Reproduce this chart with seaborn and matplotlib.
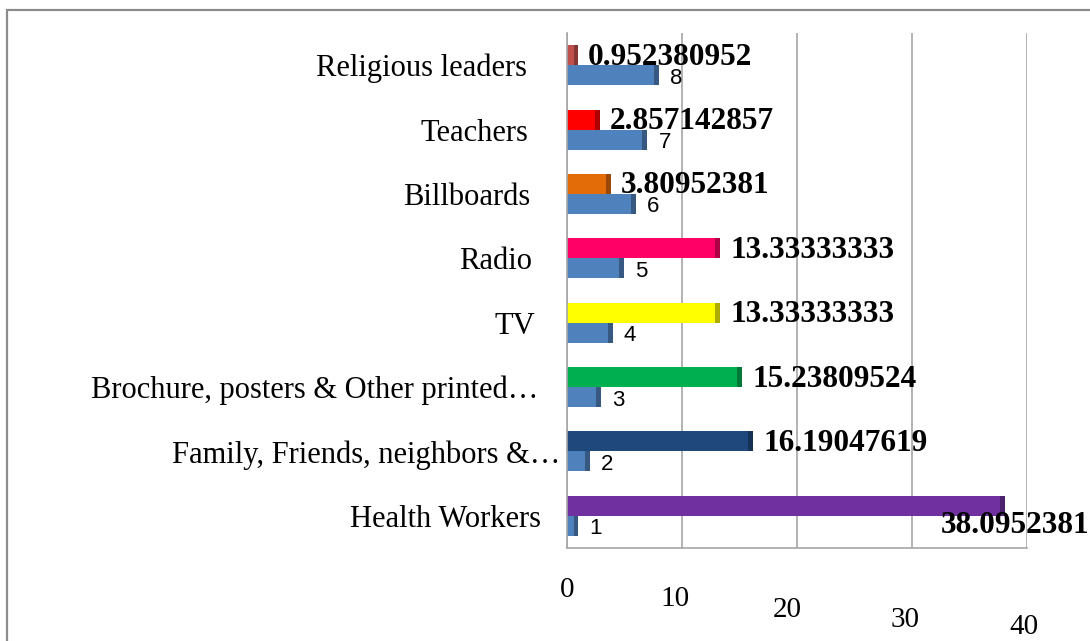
import matplotlib
matplotlib.use("Agg")
import matplotlib.pyplot as plt
import matplotlib.transforms as mtransforms
from matplotlib.patches import Rectangle
from matplotlib.colors import to_rgb
import seaborn as sns
import pandas as pd

# Sources of information (share of respondents, %) and their rank
categories = ["Religious leaders", "Teachers", "Billboards", "Radio", "TV",
              "Brochure, posters & Other printed\u2026",
              "Family, Friends, neighbors &\u2026", "Health Workers"]
percent = [0.952380952, 2.857142857, 3.80952381, 13.33333333, 13.33333333,
           15.23809524, 16.19047619, 38.0952381]
percent_labels = ["0.952380952", "2.857142857", "3.80952381", "13.33333333",
                  "13.33333333", "15.23809524", "16.19047619", "38.0952381"]
rank = [8, 7, 6, 5, 4, 3, 2, 1]
bar_colors = ["#C0504D", "#FF0000", "#E36C09", "#FF0066", "#FFFF00",
              "#00B050", "#1F497D", "#7030A0"]
rank_color = "#4F81BD"
x_ticks = [0, 10, 20, 30, 40]

sns.set_theme(style="white")
plt.rcParams["font.family"] = ["Liberation Serif", "DejaVu Serif"]

df = pd.DataFrame({
    "category": categories * 2,
    "series": ["Percent"] * len(categories) + ["Rank"] * len(categories),
    "value": percent + rank,
})

W, H = 1090, 641
fig = plt.figure(figsize=(W / 100, H / 100), dpi=100)
ax = fig.add_axes([567 / W, 1 - 548 / H, (1027 - 567) / W, (548 - 33) / H])

sns.barplot(data=df, y="category", x="value", hue="series", order=categories,
            hue_order=["Percent", "Rank"], orient="h", width=0.62,
            saturation=1, legend=False, ax=ax)


def darker(c, f=0.68):
    r, g, b = to_rgb(c)
    return (r * f, g * f, b * f)


pct_bars, rank_bars = ax.containers[0], ax.containers[1]
for bar, col in zip(pct_bars, bar_colors):
    bar.set_facecolor(col)
    bar.set_edgecolor("none")
for bar in rank_bars:
    bar.set_facecolor(rank_color)
    bar.set_edgecolor("none")

# shaded end caps for a bevelled look
for bars, cols in ((pct_bars, bar_colors), (rank_bars, [rank_color] * 8)):
    for bar, col in zip(bars, cols):
        w = bar.get_width()
        cap = min(0.45, w * 0.4)
        ax.add_patch(Rectangle((w - cap, bar.get_y()), cap, bar.get_height(),
                               facecolor=darker(col), edgecolor="none", zorder=3))

# value labels
pct_texts = []
for bar, lab in zip(pct_bars, percent_labels):
    yc = bar.get_y() + bar.get_height() / 2
    t = ax.annotate(lab, (bar.get_width(), yc), xytext=(10, -2),
                    textcoords="offset pixels", ha="left", va="center",
                    fontsize=22.5, fontweight="bold", color="black",
                    annotation_clip=False, zorder=5)
    pct_texts.append(t)
for bar, r in zip(rank_bars, rank):
    yc = bar.get_y() + bar.get_height() / 2
    ax.annotate(str(r), (bar.get_width(), yc), xytext=(11, -3),
                textcoords="offset pixels", ha="left", va="center",
                fontsize=16, family=["Liberation Sans", "DejaVu Sans"],
                color="black", annotation_clip=False, zorder=5)

ax.set_xlim(0, 40)
ax.set_ylim(7.5, -0.5)
ax.set_xticks(x_ticks)
ax.set_xticklabels([str(v) for v in x_ticks])
ax.set_xlabel("")
ax.set_ylabel("")

grid_col = "#A6A6A6"
ax.grid(axis="x", color=grid_col, linewidth=1.2)
ax.grid(axis="y", visible=False)
ax.set_axisbelow(True)
for s in ("top", "right"):
    ax.spines[s].set_visible(False)
for s in ("left", "bottom"):
    ax.spines[s].set_color(grid_col)
    ax.spines[s].set_linewidth(1.2)

ax.tick_params(axis="x", length=5, width=1.2, color=grid_col, pad=16,
               labelsize=21, labelcolor="black")
ax.tick_params(axis="y", which="major", length=0, pad=0, labelsize=22,
               labelcolor="black")
ax.set_yticks([i + 0.5 for i in range(-1, len(categories))], minor=True)
ax.tick_params(axis="y", which="minor", length=7, width=1.2, color=grid_col)

# stagger labels to follow the receding floor and wall
x_dx = [0, -7, -10, -7, -3]
x_dy = [0, -9, -20, -30, -37]
for lab, dx, dy in zip(ax.get_xticklabels(), x_dx, x_dy):
    lab.set_transform(lab.get_transform() +
                      mtransforms.Affine2D().translate(dx, dy))
y_right = [527, 528, 530, 532, 535, 538, 560, 541]
for lab, xr in zip(ax.get_yticklabels(), y_right):
    lab.set_transform(lab.get_transform() +
                      mtransforms.Affine2D().translate(xr - 567, 0))

# chart frame
fig.add_artist(Rectangle((6.5 / W, -0.1), 1.2, 1 - 10 / H + 0.1,
                         transform=fig.transFigure, fill=False,
                         edgecolor="#8C8C8C", linewidth=1.6))

# keep the widest value label inside the figure
fig.canvas.draw()
renderer = fig.canvas.get_renderer()
for t in pct_texts:
    bb = t.get_window_extent(renderer)
    if bb.x1 > W:
        t.set_position((10 - (bb.x1 - W) - 1, -20))

fig.savefig("out.png", dpi=100)
